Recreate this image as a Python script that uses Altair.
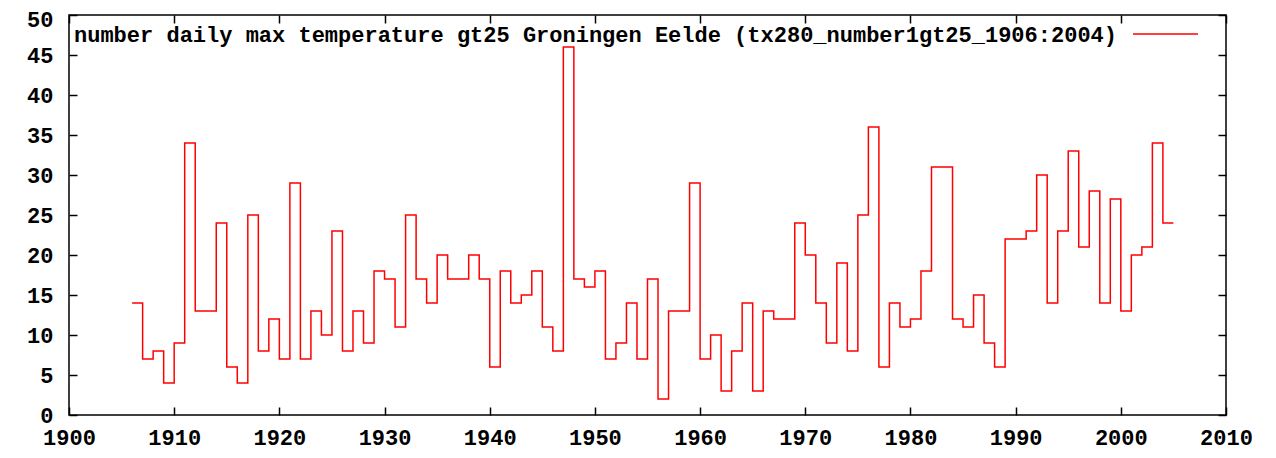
import altair as alt
import pandas as pd

years = list(range(1906, 2005))
values = [
    14, 7, 8, 4, 9, 34, 13, 13, 24, 6,
    4, 25, 8, 12, 7, 29, 7, 13, 10, 23,
    8, 13, 9, 18, 17, 11, 25, 17, 14, 20,
    17, 17, 20, 17, 6, 18, 14, 15, 18, 11,
    8, 46, 17, 16, 18, 7, 9, 14, 7, 17,
    2, 13, 13, 29, 7, 10, 3, 8, 14, 3,
    13, 12, 12, 24, 20, 14, 9, 19, 8, 25,
    36, 6, 14, 11, 12, 18, 31, 31, 12, 11,
    15, 9, 6, 22, 22, 23, 30, 14, 23, 33,
    21, 28, 14, 27, 13, 20, 21, 34, 24,
]
series_name = "number daily max temperature gt25 Groningen Eelde (tx280_number1gt25_1906:2004)"
x_ticks = list(range(1900, 2011, 10))
y_ticks = list(range(0, 51, 5))

# histogram-step: each year's value spans [year, year+1]; close the last step
df = pd.DataFrame({
    "year": years + [years[-1] + 1],
    "value": values + [values[-1]],
})

FONT = "Liberation Mono"
FS = 22
RED = "#ff0000"

xscale = alt.Scale(domain=[1900, 2010], nice=False, zero=False)
yscale = alt.Scale(domain=[0, 50], nice=False)

main = alt.Chart(df).mark_line(interpolate="step-after", strokeWidth=1.5, color=RED).encode(
    x=alt.X("year:Q", scale=xscale,
            axis=alt.Axis(orient="bottom", values=x_ticks, format="d", offset=-8,
                          labelPadding=12, labelFlush=False, labelOverlap=False)),
    y=alt.Y("value:Q", scale=yscale,
            axis=alt.Axis(orient="left", values=y_ticks, offset=-8,
                          labelPadding=16, labelFlush=False, labelOverlap=False,
                          labelOffset=alt.condition("datum.value == 50", alt.value(4), alt.value(0)))),
)

mirror = alt.Chart(df).mark_line(interpolate="step-after", strokeOpacity=0).encode(
    x=alt.X("year:Q", scale=xscale,
            axis=alt.Axis(orient="top", values=x_ticks, offset=-8, labels=False)),
    y=alt.Y("value:Q", scale=yscale,
            axis=alt.Axis(orient="right", values=y_ticks, offset=-8, labels=False)),
)

key_data = alt.Data(values=[{"label": series_name}])
key_text = alt.Chart(key_data).mark_text(
    align="right", baseline="middle", font=FONT, fontSize=22, fontWeight="bold", color="black"
).encode(text="label:N", x=alt.value(1048), y=alt.value(20))
key_line = alt.Chart(key_data).mark_rule(color=RED, strokeWidth=1.5).encode(
    x=alt.value(1064), x2=alt.value(1129), y=alt.value(19)
)

chart = alt.layer(main, mirror, key_text, key_line).resolve_axis(
    x="independent", y="independent"
).properties(
    width=1157,
    height=400,
    autosize=alt.AutoSizeParams(type="none"),
    padding={"left": 61, "top": 7, "right": 42, "bottom": 35},
    background="white",
).configure_view(
    stroke="black", strokeWidth=1.5
).configure_axis(
    labelFont=FONT, labelFontSize=FS, labelFontWeight="bold", labelColor="black",
    tickColor="black", tickWidth=1.5, tickSize=8, domain=False, grid=False, title=None,
)

chart.save("out.html", embed_options={"renderer": "svg", "actions": False})
